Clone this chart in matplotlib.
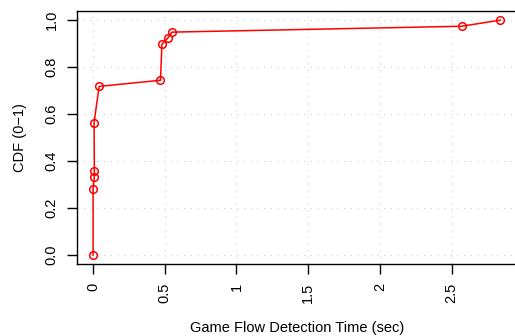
import matplotlib
matplotlib.use("Agg")
import matplotlib.pyplot as plt

det_time = [0.0, 0.0, 0.009, 0.009, 0.007, 0.042, 0.47, 0.48, 0.52, 0.55, 2.57, 2.84]
cdf = [0.0, 0.282, 0.333, 0.359, 0.564, 0.718, 0.744, 0.897, 0.923, 0.949, 0.974, 1.0]

x_ticks = [0, 0.5, 1, 1.5, 2, 2.5]
x_tick_labels = ["0", "0.5", "1", "1.5", "2", "2.5"]
y_ticks = [0.0, 0.2, 0.4, 0.6, 0.8, 1.0]
y_tick_labels = ["0.0", "0.2", "0.4", "0.6", "0.8", "1.0"]

plt.rcParams["font.family"] = ["Liberation Sans", "DejaVu Sans"]
plt.rcParams["font.size"] = 10.5

fig = plt.figure(figsize=(5.15, 3.36), dpi=100)
ax = fig.add_axes([0.149, 0.213, 0.857, 0.755])

ax.plot(det_time, cdf, color="red", lw=1.1, marker="o", ms=5.5,
        mfc="none", mec="red", mew=1.1, zorder=3)

xmin, xmax = 0.0, 2.85
pad = 0.04 * (xmax - xmin)
ax.set_xlim(xmin - pad, xmax + pad)
ax.set_ylim(-0.04, 1.04)

ax.set_xticks(x_ticks)
ax.set_xticklabels(x_tick_labels, rotation=90)
ax.set_yticks(y_ticks)
ax.set_yticklabels(y_tick_labels, rotation=90, va="center")

ax.grid(True, color="#d0d0d0", linestyle=(0, (1, 5)), lw=0.8)
ax.set_axisbelow(True)

for side in ["left", "bottom", "top", "right"]:
    ax.spines[side].set_linewidth(1.0)
ax.tick_params(direction="out", length=7, width=1.0, pad=6)

ax.set_xlabel("Game Flow Detection Time (sec)", labelpad=13)
ax.set_ylabel("CDF (0\u22121)", labelpad=13)

fig.savefig("out.png", dpi=100)
